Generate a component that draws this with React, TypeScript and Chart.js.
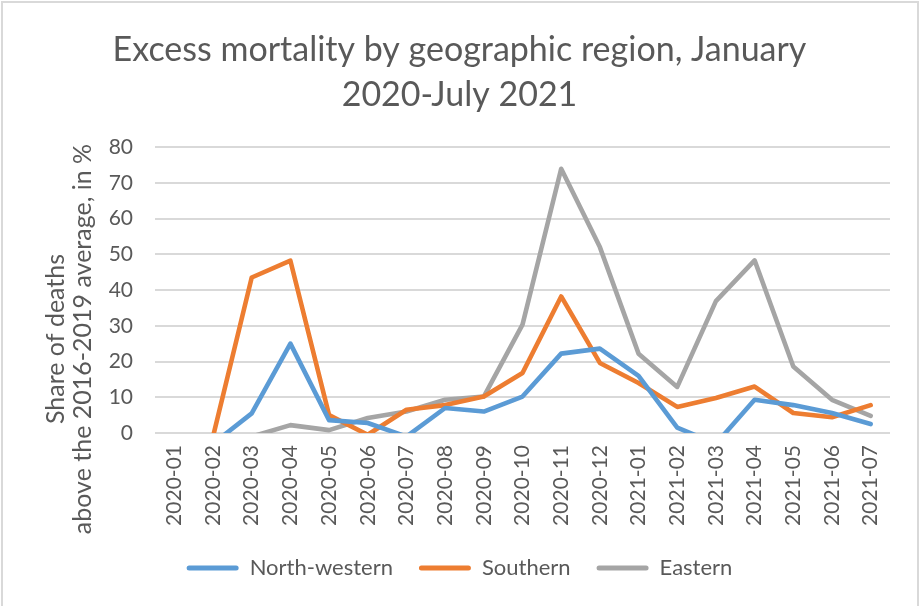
import React, { useEffect, useRef } from "react";
import { Chart, registerables } from "chart.js";

Chart.register(...registerables);

const categories = [
  "2020-01", "2020-02", "2020-03", "2020-04", "2020-05", "2020-06", "2020-07",
  "2020-08", "2020-09", "2020-10", "2020-11", "2020-12", "2021-01", "2021-02",
  "2021-03", "2021-04", "2021-05", "2021-06", "2021-07",
];

const northWestern = [-6, -3, 5.5, 25, 3.6, 2.8, -1, 7, 6, 10.2, 22.2, 23.6, 16, 1.5, -3, 9.3, 7.8, 5.6, 2.5];
const southern = [-10, -1, 43.5, 48.2, 5, -0.5, 6.5, 7.8, 10.2, 16.8, 38.2, 19.6, 14, 7.3, 9.8, 13, 5.6, 4.4, 7.8];
const eastern = [-6, -5, -1, 2.2, 0.8, 4.2, 6, 9.3, 10.2, 30.3, 73.9, 52, 22.2, 12.9, 36.9, 48.3, 18.6, 9.3, 4.8];

const seriesNames = ["North-western", "Southern", "Eastern"];
const seriesColors = ["#5B9BD5", "#ED7D31", "#A5A5A5"];

const titleLines = ["Excess mortality by geographic region, January", "2020-July 2021"];
const yTitleLines = ["Share of deaths", "above the 2016-2019 average, in %"];
const yMin = 0;
const yMax = 80;
const yStep = 10;

const TEXT = "#595959";
const FONT = "Lato";

const yTitlePlugin = {
  id: "yTitleTwoLines",
  afterDraw(chart: any) {
    const ctx = chart.ctx;
    ctx.save();
    ctx.translate(69, 339);
    ctx.rotate(-Math.PI / 2);
    ctx.font = `25px ${FONT}`;
    ctx.fillStyle = TEXT;
    ctx.textAlign = "center";
    ctx.textBaseline = "middle";
    ctx.fillText(yTitleLines[0], 0, -13);
    ctx.fillText(yTitleLines[1], 0, 14);
    ctx.restore();
  },
};

export default function App() {
  const ref = useRef<HTMLCanvasElement>(null);

  useEffect(() => {
    const canvas = ref.current;
    if (!canvas) return;
    const data = [northWestern, southern, eastern];
    const chart = new Chart(canvas, {
      type: "line",
      data: {
        labels: categories,
        datasets: data.map((d, i) => ({
          label: seriesNames[i],
          data: d,
          borderColor: seriesColors[i],
          backgroundColor: seriesColors[i],
          borderWidth: 4.6,
          borderCapStyle: "round" as const,
          borderJoinStyle: "round" as const,
          pointRadius: 0,
          pointHoverRadius: 0,
          tension: 0,
          yAxisID: "y",
        })),
      },
      options: {
        responsive: false,
        animation: false,
        events: [],
        layout: { padding: { left: 0, right: 0, top: 0, bottom: 17 } },
        plugins: {
          title: {
            display: true,
            text: titleLines,
            color: TEXT,
            font: { family: FONT, size: 34, weight: "normal", lineHeight: 45 / 34 },
            padding: { top: 28, bottom: 29 },
          },
          legend: {
            position: "bottom",
            labels: {
              color: TEXT,
              font: { family: FONT, size: 22 },
              boxWidth: 52,
              boxHeight: 5,
              padding: 26,
              useBorderRadius: true,
              borderRadius: 2.5,
              generateLabels: (c: any) =>
                c.data.datasets.map((ds: any, i: number) => ({
                  text: ds.label,
                  fillStyle: ds.borderColor,
                  strokeStyle: ds.borderColor,
                  lineWidth: 0,
                  fontColor: TEXT,
                  borderRadius: 2.5,
                  datasetIndex: i,
                })),
            },
          },
          tooltip: { enabled: false },
        },
        scales: {
          x: {
            offset: true,
            grid: { display: false, drawTicks: false, offset: true },
            border: { display: false },
            ticks: {
              color: TEXT,
              font: { family: FONT, size: 21 },
              minRotation: 90,
              maxRotation: 90,
              padding: 12,
              autoSkip: false,
            },
            afterFit: (scale: any) => {
              scale.height = 98;
            },
          },
          y: {
            min: yMin,
            max: yMax,
            grid: { color: "#D9D9D9", lineWidth: 2, drawTicks: false },
            border: { display: false },
            ticks: {
              stepSize: yStep,
              color: TEXT,
              font: { family: FONT, size: 21 },
              padding: 22,
            },
            afterFit: (scale: any) => {
              scale.width = 155;
            },
          },
          yRight: {
            position: "right",
            display: true,
            grid: { display: false, drawTicks: false },
            border: { display: false },
            ticks: { display: false },
            afterFit: (scale: any) => {
              scale.width = 29;
            },
          },
        },
      },
      plugins: [yTitlePlugin],
    });
    return () => chart.destroy();
  }, []);

  return (
    <div
      style={{
        position: "fixed",
        left: 0,
        top: 0,
        width: 919,
        height: 606,
        background: "#ffffff",
        overflow: "hidden",
      }}
    >
      <div
        style={{
          position: "absolute",
          left: 1,
          top: 1,
          width: 918,
          height: 640,
          border: "2px solid #D9D9D9",
          boxSizing: "border-box",
        }}
      />
      <canvas
        ref={ref}
        width={919}
        height={606}
        style={{ position: "absolute", left: 0, top: 0, width: 919, height: 606 }}
      />
    </div>
  );
}
